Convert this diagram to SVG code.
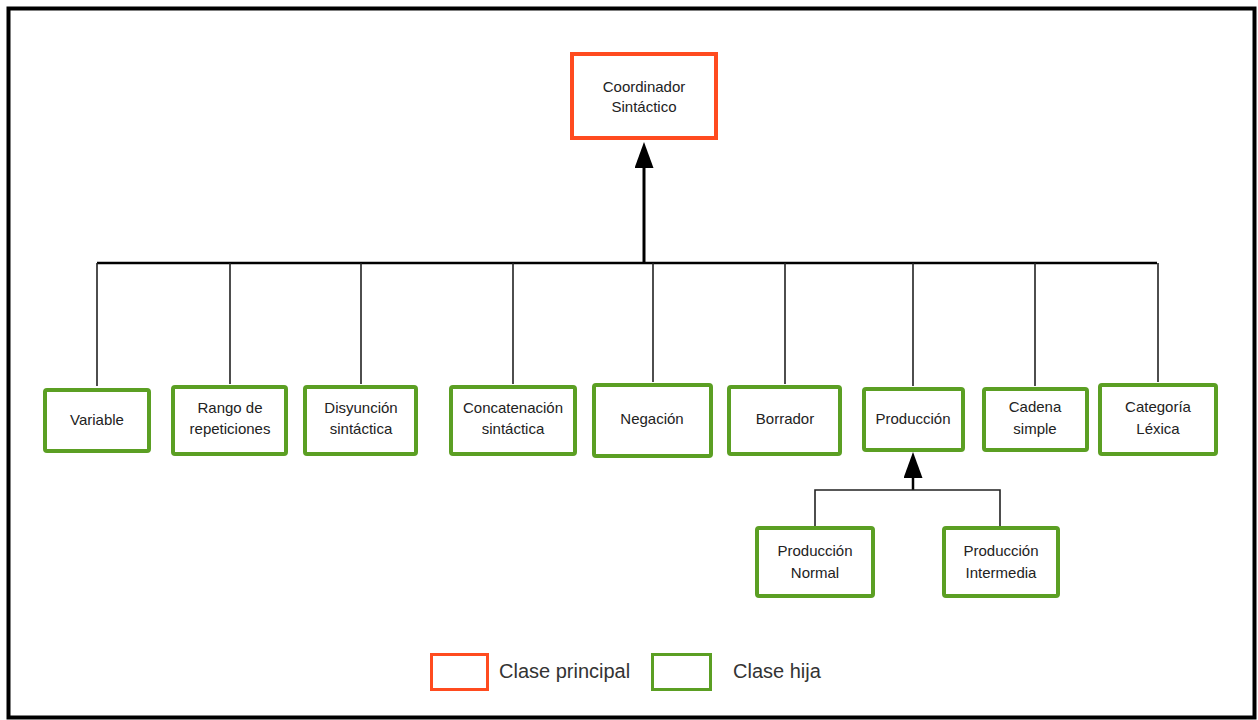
<svg xmlns="http://www.w3.org/2000/svg" width="1258" height="720" viewBox="0 0 1258 720">
  <style>
    .frame { fill: #ffffff; stroke: #000000; stroke-width: 4; }
    .parent { fill: #ffffff; stroke: #FF4B1F; stroke-width: 4; }
    .child { fill: #ffffff; stroke: #5B9F23; stroke-width: 4; }
    .lbl { font-family: "Liberation Sans", Arial, sans-serif; font-size: 15px; fill: #222222; text-anchor: middle; }
    .legend { font-family: "Liberation Sans", Arial, sans-serif; font-size: 20px; fill: #333333; }
    .bus { fill: none; stroke: #000000; stroke-width: 2.5; }
    .drop { fill: none; stroke: #222222; stroke-width: 1.6; }
    .stem { fill: none; stroke: #000000; stroke-width: 3; }
  </style>
  <defs>
    <marker id="inherit" viewBox="0 0 26 19" refX="0" refY="9.5" markerWidth="26" markerHeight="19" markerUnits="userSpaceOnUse" orient="auto">
      <path d="M0,0 L26,9.5 L0,19 z" fill="#000000"/>
    </marker>
  </defs>

  <rect class="frame" x="8.5" y="8.5" width="1246" height="709"/>

  <!-- inheritance connectors -->
  <g id="connectors">
    <path class="stem" d="M644,263 V168" marker-end="url(#inherit)"/>
    <path class="bus" d="M97,263 H1157"/>
    <path class="drop" d="M97,263 V386 M230,263 V384 M361,263 V384 M513,263 V384 M653,263 V382 M785,263 V384 M913,263 V386 M1035,263 V386 M1158,263 V382"/>
    <path class="stem" style="stroke-width:2.5" d="M913,490 V478" marker-end="url(#inherit)"/>
    <path class="drop" d="M815,526 V490 H1000 V526"/>
  </g>

  <g id="coordinador">
    <rect class="parent" x="572" y="54" width="144" height="84"/>
    <text class="lbl" x="644" y="92">Coordinador</text>
    <text class="lbl" x="644" y="112">Sintáctico</text>
  </g>

  <g id="variable">
    <rect class="child" x="45" y="390" width="104" height="61" rx="2"/>
    <text class="lbl" x="97" y="425">Variable</text>
  </g>
  <g id="rango">
    <rect class="child" x="173" y="387" width="113" height="67" rx="2"/>
    <text class="lbl" x="230" y="413">Rango de</text>
    <text class="lbl" x="230" y="434">repeticiones</text>
  </g>
  <g id="disyuncion">
    <rect class="child" x="305" y="387" width="111" height="67" rx="2"/>
    <text class="lbl" x="361" y="413">Disyunción</text>
    <text class="lbl" x="361" y="434">sintáctica</text>
  </g>
  <g id="concatenacion">
    <rect class="child" x="451" y="387" width="124" height="67" rx="2"/>
    <text class="lbl" x="513" y="413">Concatenación</text>
    <text class="lbl" x="513" y="434">sintáctica</text>
  </g>
  <g id="negacion">
    <rect class="child" x="594" y="385" width="117" height="71" rx="2"/>
    <text class="lbl" x="652" y="424">Negación</text>
  </g>
  <g id="borrador">
    <rect class="child" x="729" y="387" width="111" height="67" rx="2"/>
    <text class="lbl" x="785" y="424">Borrador</text>
  </g>
  <g id="produccion">
    <rect class="child" x="864" y="389" width="99" height="61" rx="2"/>
    <text class="lbl" x="913" y="424">Producción</text>
  </g>
  <g id="cadena">
    <rect class="child" x="984" y="389" width="103" height="61" rx="2"/>
    <text class="lbl" x="1035" y="412">Cadena</text>
    <text class="lbl" x="1035" y="434">simple</text>
  </g>
  <g id="categoria">
    <rect class="child" x="1100" y="385" width="116" height="69" rx="2"/>
    <text class="lbl" x="1158" y="412">Categoría</text>
    <text class="lbl" x="1158" y="434">Léxica</text>
  </g>
  <g id="produccion-normal">
    <rect class="child" x="757" y="528" width="116" height="68" rx="2"/>
    <text class="lbl" x="815" y="556">Producción</text>
    <text class="lbl" x="815" y="578">Normal</text>
  </g>
  <g id="produccion-intermedia">
    <rect class="child" x="944" y="528" width="114" height="68" rx="2"/>
    <text class="lbl" x="1001" y="556">Producción</text>
    <text class="lbl" x="1001" y="578">Intermedia</text>
  </g>

  <g id="legend">
    <rect class="parent" style="stroke-width:3" x="431.5" y="654.5" width="56" height="35"/>
    <text class="legend" x="499" y="678">Clase principal</text>
    <rect class="child" style="stroke-width:3" x="652.5" y="654.5" width="58" height="35"/>
    <text class="legend" x="733" y="678">Clase hija</text>
  </g>
</svg>
